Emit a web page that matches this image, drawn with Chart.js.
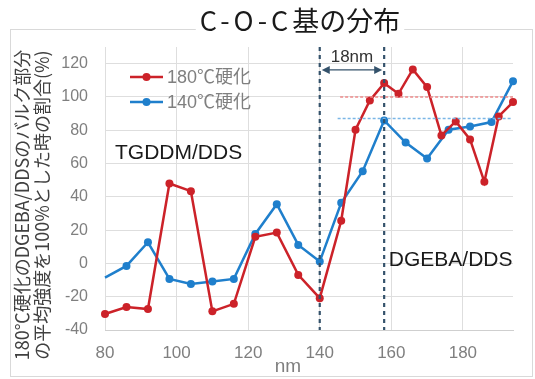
<!DOCTYPE html>
<html>
<head>
<meta charset="utf-8">
<script src="https://cdn.jsdelivr.net/npm/chart.js@4/dist/chart.umd.min.js"></script>
<style>
  html, body { margin: 0; padding: 0; background: #fff; }
  canvas { display: block; }
</style>
</head>
<body>
<canvas id="c" width="535" height="379"></canvas>
<script>
// Depth positions (nm) and relative intensities (%) for each cure temperature
const xs180 = [80, 86, 92, 98, 104, 110, 116, 122, 128, 134, 140, 146, 150, 154, 158, 162, 166, 170, 174, 178, 182, 186, 190, 194];
const ys180 = [-30.4, -26.2, -27.4, 48, 43.4, -28.8, -24.3, 16, 18.5, -6.9, -20.9, 25.6, 80.3, 97.9, 108.3, 101.9, 116.5, 105.9, 76.9, 85.3, 74.5, 49, 88.3, 96.9];
const xs140 = [80, 86, 92, 98, 104, 110, 116, 122, 128, 134, 140, 146, 152, 158, 164, 170, 176, 182, 188, 194];
const ys140 = [-8.5, -1.5, 12.7, -9.3, -12.3, -10.9, -9.3, 17.7, 35.6, 11.1, 1.1, 36.4, 55.4, 85.9, 72.6, 63, 80.3, 82.3, 84.9, 109.5];

const seriesNames = ['180℃硬化', '140℃硬化'];
const xTicks = [80, 100, 120, 140, 160, 180];
const yTicks = [-40, -20, 0, 20, 40, 60, 80, 100, 120];

const titleParts = ['C-O-C', '基の分布'];
const yTitleLines = ['180℃硬化のDGEBA/DDSのバルク部分', 'の平均強度を100%とした時の割合(%)'];
const xTitleText = 'nm';

// Bulk-average levels and the interface band
const bulkLevel180 = 100;
const bulkLevel140 = 87;
const interfaceEdges = [140, 158];
const gapLabel = '18nm';
const regionLabels = ['TGDDM/DDS', 'DGEBA/DDS'];

const RED = '#cc2229';
const BLUE = '#1f7fcc';
const SLATE = '#34526b';
const LATIN = "'Liberation Sans', 'Noto Sans CJK JP', sans-serif";
const CJK = "'Noto Sans CJK JP', 'Liberation Sans', sans-serif";

function toPoints(xs, ys) {
  return xs.map((x, i) => ({ x: x, y: ys[i] }));
}

const decorations = {
  id: 'decorations',
  beforeDraw(chart) {
    const ctx = chart.ctx;
    ctx.save();
    ctx.fillStyle = '#fff';
    ctx.fillRect(0, 0, chart.width, chart.height);
    // outer frame
    ctx.strokeStyle = '#d9d9d9';
    ctx.lineWidth = 1;
    ctx.strokeRect(10.5, 29.5, 522, 347);
    // title, with a white band behind it; the formula part is spaced out
    ctx.font = '27px ' + CJK;
    ctx.letterSpacing = '4px';
    const w1 = ctx.measureText(titleParts[0]).width;
    ctx.letterSpacing = '0px';
    const w2 = ctx.measureText(titleParts[1]).width;
    const tw = w1 + w2;
    const tx = 300 - tw / 2;
    ctx.fillStyle = '#fff';
    ctx.fillRect(tx - 4, 0, tw + 8, 36);
    ctx.fillStyle = '#1a1a1a';
    ctx.textAlign = 'left';
    ctx.textBaseline = 'middle';
    ctx.letterSpacing = '4px';
    ctx.fillText(titleParts[0], tx, 21);
    ctx.letterSpacing = '0px';
    ctx.fillText(titleParts[1], tx + w1, 21);
    // y-axis title (two rotated lines)
    ctx.save();
    ctx.translate(21.7, 205);
    ctx.rotate(-Math.PI / 2);
    ctx.textAlign = 'center';
    ctx.font = '18px ' + CJK;
    ctx.fillStyle = '#404040';
    ctx.fillText(yTitleLines[0], 0, 0);
    ctx.fillText(yTitleLines[1], 0, 20);
    ctx.restore();
    // x-axis title
    ctx.textAlign = 'center';
    ctx.font = '19px ' + LATIN;
    ctx.fillStyle = '#7f7f7f';
    ctx.fillText(xTitleText, 288, 367);
    ctx.restore();
  },
  afterDatasetsDraw(chart) {
    const ctx = chart.ctx;
    const xs = chart.scales.x, ys = chart.scales.y;
    const area = chart.chartArea;
    const X = v => xs.getPixelForValue(v);
    const Y = v => ys.getPixelForValue(v);
    ctx.save();

    // bulk-average dotted levels
    ctx.lineWidth = 1.5;
    ctx.setLineDash([3, 2]);
    ctx.strokeStyle = '#ee8a8a';
    ctx.beginPath();
    ctx.moveTo(X(145.7), Y(bulkLevel180));
    ctx.lineTo(X(194), Y(bulkLevel180));
    ctx.stroke();
    ctx.strokeStyle = '#7bb6e6';
    ctx.beginPath();
    ctx.moveTo(X(145), Y(bulkLevel140));
    ctx.lineTo(X(193.5), Y(bulkLevel140));
    ctx.stroke();

    // interface edges
    ctx.strokeStyle = SLATE;
    ctx.lineWidth = 2.2;
    ctx.setLineDash([4, 4]);
    interfaceEdges.forEach(v => {
      ctx.beginPath();
      ctx.moveTo(X(v), area.top);
      ctx.lineTo(X(v), area.bottom);
      ctx.stroke();
    });
    ctx.setLineDash([]);

    // double-headed arrow between the edges
    const ay = Y(116.2);
    const x1 = X(interfaceEdges[0]) + 2, x2 = X(interfaceEdges[1]) - 2;
    ctx.strokeStyle = SLATE;
    ctx.fillStyle = SLATE;
    ctx.lineWidth = 1.3;
    ctx.beginPath();
    ctx.moveTo(x1 + 6, ay);
    ctx.lineTo(x2 - 6, ay);
    ctx.stroke();
    ctx.beginPath();
    ctx.moveTo(x1, ay); ctx.lineTo(x1 + 8, ay - 4); ctx.lineTo(x1 + 8, ay + 4); ctx.closePath();
    ctx.fill();
    ctx.beginPath();
    ctx.moveTo(x2, ay); ctx.lineTo(x2 - 8, ay - 4); ctx.lineTo(x2 - 8, ay + 4); ctx.closePath();
    ctx.fill();

    ctx.font = '17px ' + LATIN;
    ctx.fillStyle = '#333';
    ctx.textAlign = 'center';
    ctx.textBaseline = 'middle';
    ctx.fillText(gapLabel, X((interfaceEdges[0] + interfaceEdges[1]) / 2), Y(124));

    // region labels
    ctx.font = '21px ' + LATIN;
    ctx.fillStyle = '#1a1a1a';
    ctx.textAlign = 'left';
    ctx.fillText(regionLabels[0], X(82.8), Y(66.3));
    ctx.fillText(regionLabels[1], X(159.3), Y(2.1));

    // legend
    const items = [[seriesNames[0], RED, 77], [seriesNames[1], BLUE, 102]];
    items.forEach(([label, color, py]) => {
      ctx.strokeStyle = color;
      ctx.fillStyle = color;
      ctx.lineWidth = 2.5;
      ctx.beginPath();
      ctx.moveTo(130, py);
      ctx.lineTo(163, py);
      ctx.stroke();
      ctx.beginPath();
      ctx.arc(146.5, py, 4, 0, Math.PI * 2);
      ctx.fill();
      ctx.font = '18px ' + LATIN;
      ctx.fillStyle = '#7f7f7f';
      ctx.textAlign = 'left';
      ctx.fillText(label, 167, py + 1);
    });
    ctx.restore();
  }
};

new Chart(document.getElementById('c'), {
  type: 'line',
  data: {
    datasets: [
      {
        label: seriesNames[0],
        data: toPoints(xs180, ys180),
        borderColor: RED,
        backgroundColor: RED,
        pointBackgroundColor: RED,
        pointBorderColor: RED,
        borderWidth: 2.5,
        pointRadius: 4,
        pointBorderWidth: 0,
        tension: 0,
        clip: false
      },
      {
        label: seriesNames[1],
        data: toPoints(xs140, ys140),
        borderColor: BLUE,
        backgroundColor: BLUE,
        pointBackgroundColor: BLUE,
        pointBorderColor: BLUE,
        borderWidth: 2.5,
        pointRadius: xs140.map((_, i) => (i === 0 ? 0 : 4)),
        pointBorderWidth: 0,
        tension: 0,
        clip: false
      }
    ]
  },
  options: {
    responsive: false,
    animation: false,
    devicePixelRatio: 1,
    layout: { padding: { left: 0, right: 22, top: 47, bottom: 0 } },
    plugins: {
      legend: { display: false },
      title: { display: false },
      tooltip: { enabled: false }
    },
    scales: {
      x: {
        type: 'linear',
        min: 80,
        max: 194,
        afterBuildTicks: s => { s.ticks = xTicks.map(v => ({ value: v })); },
        afterFit: s => { s.height = 49; },
        grid: { color: '#dedede', drawTicks: false },
        border: { color: '#cfcfcf' },
        ticks: { padding: 13, color: '#7f7f7f', font: { family: LATIN, size: 17 } }
      },
      y: {
        type: 'linear',
        min: -40,
        max: 130,
        afterBuildTicks: s => { s.ticks = yTicks.map(v => ({ value: v })); },
        afterFit: s => { s.width = 105; },
        grid: { color: '#dedede', drawTicks: false },
        border: { display: false },
        ticks: { padding: 17, color: '#7f7f7f', font: { family: LATIN, size: 16 } }
      }
    }
  },
  plugins: [decorations]
});
</script>
</body>
</html>
